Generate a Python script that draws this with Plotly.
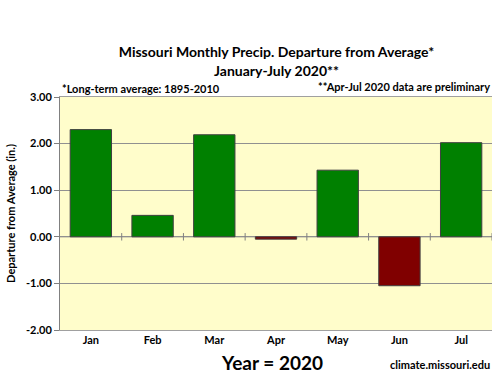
import plotly.graph_objects as go

months = ["Jan", "Feb", "Mar", "Apr", "May", "Jun", "Jul"]
departures = [2.30, 0.46, 2.19, -0.05, 1.43, -1.05, 2.02]
y_ticks = [-2, -1, 0, 1, 2, 3]
y_tick_labels = ["-2.00", "-1.00", "0.00", "1.00", "2.00", "3.00"]

colors = ["#008000" if v >= 0 else "#800000" for v in departures]
FONT = "Lato, Open Sans, sans-serif"

fig = go.Figure()
fig.add_trace(go.Bar(
    x=months, y=departures,
    marker=dict(color=colors, line=dict(color="#404040", width=1)),
    hoverinfo="x+y",
))

# zero line with category-boundary tick marks
shapes = [dict(type="line", xref="x", yref="y", x0=-0.5, x1=6.5, y0=0, y1=0,
               line=dict(color="#808080", width=1), layer="below")]
for i in range(len(months)):
    xb = i + 0.5
    shapes.append(dict(type="line", xref="x", yref="y", x0=xb, x1=xb, y0=-0.08, y1=0.08,
                       line=dict(color="#808080", width=1)))

fig.update_layout(
    width=500, height=377,
    margin=dict(l=60, r=8, t=97, b=47),
    paper_bgcolor="white",
    plot_bgcolor="#FFFDCB",
    bargap=0.33,
    showlegend=False,
    font=dict(family=FONT, color="black"),
    title=dict(text="<b>Missouri Monthly Precip. Departure from Average*<br>January-July 2020**</b>",
               x=0.553, xanchor="center", y=0.848, yanchor="middle",
               font=dict(size=14, family=FONT)),
    shapes=shapes,
    annotations=[
        dict(text="<b>*Long-term average: 1895-2010</b>", xref="paper", yref="paper",
             x=0.0, y=1.0, xanchor="left", yanchor="bottom", showarrow=False,
             font=dict(size=11, family=FONT), yshift=0),
        dict(text="<b>**Apr-Jul 2020 data are preliminary</b>", xref="paper", yref="paper",
             x=1.0, y=1.0, xanchor="right", yanchor="bottom", showarrow=False,
             font=dict(size=11, family=FONT), yshift=2),
        dict(text="<b>Year = 2020</b>", xref="paper", yref="paper",
             x=0.49, y=0, xanchor="center", yanchor="top", showarrow=False,
             font=dict(size=19, family=FONT), yshift=-19),
        dict(text="<b>climate.missouri.edu</b>", xref="paper", yref="paper",
             x=1.0, y=0, xanchor="right", yanchor="top", showarrow=False,
             font=dict(size=11, family=FONT), yshift=-26),
    ],
    xaxis=dict(
        showgrid=False, ticks="", showline=True, linecolor="#A0A0A0", mirror=True,
        tickfont=dict(size=11, family=FONT), tickprefix="<b>", ticksuffix="</b>",
        range=[-0.5, 6.5], fixedrange=True,
    ),
    yaxis=dict(
        range=[-2, 3], tickvals=y_ticks, ticktext=[f"<b>{t}</b>" for t in y_tick_labels],
        showgrid=True, gridcolor="#909090", gridwidth=1, zeroline=False,
        showline=True, linecolor="#808080", ticks="outside", ticklen=5, tickcolor="#808080",
        tickfont=dict(size=11, family=FONT),
        title=dict(text="<b>Departure from Average (in.)</b>", font=dict(size=11, family=FONT),
                   standoff=8),
    ),
)

fig.write_html("out.html", config={"displayModeBar": False},
               post_script="document.body.style.margin='0';document.body.style.overflow='hidden';")
